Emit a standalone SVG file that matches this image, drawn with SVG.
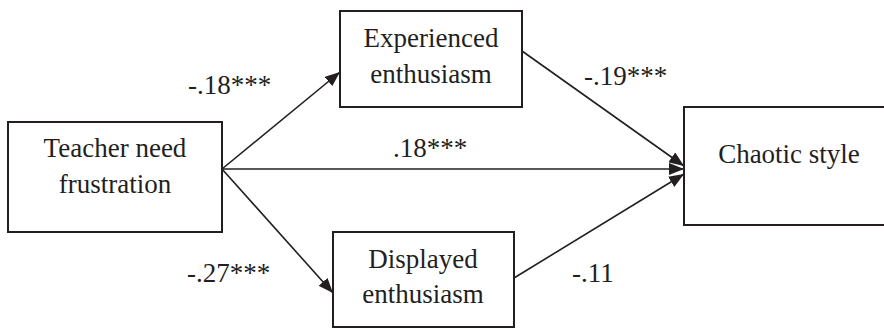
<svg xmlns="http://www.w3.org/2000/svg" width="884" height="329" viewBox="0 0 884 329">
  <style>
    .box { fill: #ffffff; stroke: #231f20; stroke-width: 2; }
    .lbl { font-family: "Liberation Serif", "Times New Roman", serif; font-size: 27px; fill: #231f20; }
    .mid { text-anchor: middle; }
    .edge { stroke: #231f20; stroke-width: 1.6; fill: none; marker-end: url(#arrow); }
  </style>
  <defs>
    <marker id="arrow" markerUnits="userSpaceOnUse" markerWidth="16" markerHeight="12" refX="15" refY="6" orient="auto">
      <path d="M0,0 L15,6 L0,12 Z" fill="#231f20"/>
    </marker>
  </defs>
  <rect width="884" height="329" fill="#ffffff"/>

  <g id="connectors">
    <line class="edge" x1="222" y1="169" x2="340" y2="72"/>
    <line class="edge" x1="222" y1="169" x2="333" y2="293"/>
    <line class="edge" x1="222" y1="169" x2="684" y2="169"/>
    <line class="edge" x1="522" y1="51" x2="684" y2="166"/>
    <line class="edge" x1="514" y1="278" x2="684" y2="174"/>
  </g>

  <g id="labels">
    <text class="lbl" x="188" y="94">-.18***</text>
    <text class="lbl" x="187" y="282">-.27***</text>
    <text class="lbl" x="393" y="157">.18***</text>
    <text class="lbl" x="584" y="85">-.19***</text>
    <text class="lbl" x="572" y="282">-.11</text>
  </g>

  <g id="teacher">
    <rect class="box" x="8" y="122" width="214" height="110"/>
    <text class="lbl mid" x="115" y="157">Teacher need</text>
    <text class="lbl mid" x="115" y="193">frustration</text>
  </g>

  <g id="experienced">
    <rect class="box" x="340" y="11" width="182" height="96"/>
    <text class="lbl mid" x="431" y="47">Experienced</text>
    <text class="lbl mid" x="431" y="83">enthusiasm</text>
  </g>

  <g id="displayed">
    <rect class="box" x="333" y="232" width="181" height="95"/>
    <text class="lbl mid" x="423" y="268">Displayed</text>
    <text class="lbl mid" x="423" y="303">enthusiasm</text>
  </g>

  <g id="chaotic">
    <rect class="box" x="684" y="107" width="210" height="118"/>
    <text class="lbl mid" x="789" y="163">Chaotic style</text>
  </g>
</svg>
